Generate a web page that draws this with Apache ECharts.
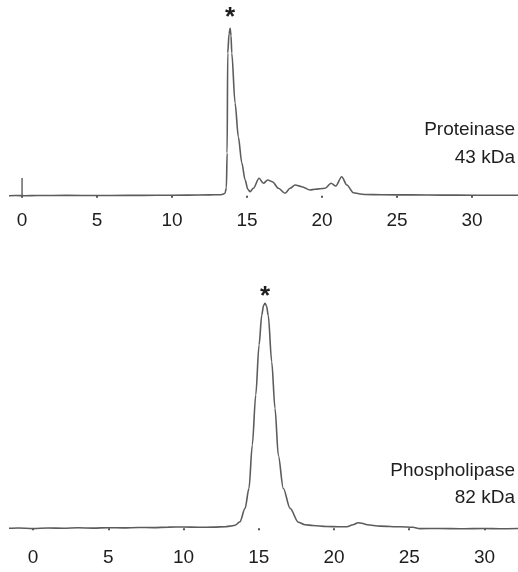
<!DOCTYPE html>
<html>
<head>
<meta charset="utf-8">
<script src="https://cdn.jsdelivr.net/npm/echarts@6/dist/echarts.min.js"></script>
<style>
  html, body { margin: 0; padding: 0; background: #fff; }
  #chart { width: 518px; height: 572px; }
</style>
</head>
<body>
<div id="chart"></div>
<script>
// elution time (min) and detector signal
var tickValues = [0, 5, 10, 15, 20, 25, 30];

var proteinaseTime = [-0.87, -0.4, 0.2, 1, 3, 5, 7, 9, 11, 12.5, 13.2, 13.4, 13.53, 13.62, 13.67, 13.71, 13.8, 13.87, 13.93, 13.98,
  14.2, 14.42, 14.65, 14.87, 15.05, 15.2, 15.42, 15.8, 16.09, 16.38, 16.69, 17.09, 17.53, 17.87, 18.2, 18.65, 19.2, 19.53,
  20.2, 20.6, 20.91, 21.31, 21.65, 22.09, 22.53, 22.87, 24, 26, 28, 30, 33.06];
var proteinaseSignal = [0, 0.2, 0, 0.2, 0.3, 0.2, 0.3, 0.4, 0.6, 0.8, 1.0, 1.5, 2.5, 8, 42.7, 142.7, 162, 167.4, 160, 142.7,
  92.7, 58.7, 32.7, 15.7, 6.5, 4, 7.4, 17.4, 12.4, 15.7, 14, 7.4, 2.4, 7.4, 10.7, 9, 5.7, 6.4,
  7.4, 12.4, 9.7, 19, 10.7, 3, 1.7, 1.2, 0.9, 0.8, 0.6, 0.5, 0.5];
var injectionMark = [0, 17.7];

var phospholipaseTime = [-1.6, -1, 0, 1, 2, 3, 4, 5, 6, 7, 8, 9, 10, 11, 12, 12.8, 13.1, 13.42, 13.75, 14.09, 14.35, 14.57, 14.8,
  15.02, 15.2, 15.32, 15.42, 15.52, 15.63, 15.86, 16.08, 16.3, 16.63, 17.08, 17.63, 18.07, 18.6, 19.5, 20.3, 20.86, 21.26,
  21.6, 21.86, 22.2, 23.06, 24.4, 25.25, 25.7, 27, 28.5, 30, 31, 32.23];
var phospholipaseSignal = [0, 0.3, -0.3, 0.3, 0, 0.5, 0.2, 0.6, 0.4, 0.8, 0.7, 1.2, 1.3, 1, 1.2, 1.6, 2.2, 3, 6.5, 20, 40, 83.3, 133.3,
  183.3, 213.3, 223, 225, 222, 213, 166.6, 120, 73, 40, 20, 6, 3.5, 2.8, 1.8, 1.5, 1.5, 3.5,
  5.6, 5, 3.5, 2.2, 1.5, 1, -0.3, -0.2, -0.5, -0.2, -0.4, -0.2];

var proteinaseLabel = 'Proteinase\n43 kDa';
var phospholipaseLabel = 'Phospholipase\n82 kDa';

function pairs(xs, ys) {
  var out = [];
  for (var i = 0; i < xs.length; i++) out.push([xs[i], ys[i]]);
  return out;
}
function peakOf(xs, ys) {
  var k = 0;
  for (var i = 1; i < ys.length; i++) if (ys[i] > ys[k]) k = i;
  return [xs[k], ys[k]];
}

var font = '"Liberation Sans", Arial, sans-serif';
var lineColor = '#5c5c5c';
var textColor = '#1e1e1e';

function xAxisFor(gridIndex, min, max, margin) {
  return {
    type: 'value', gridIndex: gridIndex, min: min, max: max,
    axisLine: { show: false },
    splitLine: { show: false },
    axisTick: { show: true, customValues: tickValues, length: 2, lineStyle: { color: '#555', width: 2 } },
    axisLabel: { customValues: tickValues, fontSize: 19, color: textColor, fontFamily: font, margin: margin }
  };
}

function starMark(xs, ys, dy) {
  return {
    symbol: 'circle', symbolSize: 1,
    itemStyle: { color: 'rgba(0,0,0,0)' },
    label: { show: true, formatter: '*', position: 'top', distance: 0, fontSize: 26, fontWeight: 'bold',
      color: textColor, fontFamily: font, offset: [0, dy] },
    data: [{ coord: peakOf(xs, ys) }]
  };
}

var chart = echarts.init(document.getElementById('chart'));
chart.setOption({
  animation: false,
  backgroundColor: '#fff',
  grid: [
    { left: 9, width: 509, top: 20, height: 180 },
    { left: 9, width: 509, top: 290, height: 245 }
  ],
  xAxis: [xAxisFor(0, -0.87, 33.06, 11), xAxisFor(1, -1.6, 32.23, 13)],
  yAxis: [
    { gridIndex: 0, type: 'value', min: -4.3, max: 175.7, show: false },
    { gridIndex: 1, type: 'value', min: -6.7, max: 238.3, show: false }
  ],
  graphic: [
    { type: 'text', right: 3, top: 116, style: { text: proteinaseLabel, font: '19px ' + font, fill: textColor, textAlign: 'right', lineHeight: 28 } },
    { type: 'text', right: 3, top: 457, style: { text: phospholipaseLabel, font: '19px ' + font, fill: textColor, textAlign: 'right', lineHeight: 27 } }
  ],
  series: [
    {
      type: 'line', xAxisIndex: 0, yAxisIndex: 0, showSymbol: false, smooth: 0.3, smoothMonotone: 'x',
      lineStyle: { color: lineColor, width: 1.6 },
      data: pairs(proteinaseTime, proteinaseSignal),
      markPoint: starMark(proteinaseTime, proteinaseSignal, 3)
    },
    {
      type: 'line', xAxisIndex: 0, yAxisIndex: 0, showSymbol: false,
      lineStyle: { color: lineColor, width: 1.4 },
      data: [[injectionMark[0], 0], injectionMark]
    },
    {
      type: 'line', xAxisIndex: 1, yAxisIndex: 1, showSymbol: false, smooth: 0.3, smoothMonotone: 'x',
      lineStyle: { color: lineColor, width: 1.6 },
      data: pairs(phospholipaseTime, phospholipaseSignal),
      markPoint: starMark(phospholipaseTime, phospholipaseSignal, 7)
    }
  ]
});
</script>
</body>
</html>
